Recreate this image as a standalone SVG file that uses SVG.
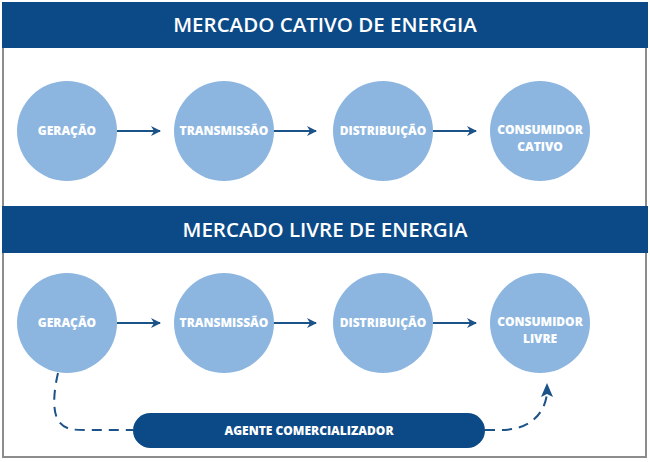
<svg xmlns="http://www.w3.org/2000/svg" width="650" height="462" viewBox="0 0 650 462">
<style>
.hdr{fill:#0b4a86}
.panel{fill:#ffffff;stroke:#8c8c8c;stroke-width:2}
.title{font-family:"Open Sans","Liberation Sans",sans-serif;font-weight:600;font-size:20.5px;fill:#ffffff;text-anchor:middle}
.node circle{fill:#8cb6e0}
.lbl{font-family:"Open Sans","Liberation Sans",sans-serif;font-weight:800;font-size:12px;fill:#ffffff;text-anchor:middle}
.arr{stroke:#1b5287;stroke-width:2;fill:none}
.dash{stroke:#1b5287;stroke-width:2;fill:none;stroke-dasharray:10 7}
</style>
<defs>
<marker id="ah" viewBox="0 0 10 10" refX="9" refY="5" markerWidth="10" markerHeight="10" markerUnits="userSpaceOnUse" orient="auto">
<path d="M0,0 L10,5 L0,10 L3,5 Z" fill="#1b5287"/>
</marker>
</defs>
<rect width="650" height="462" fill="#ffffff"/>
<rect class="panel" x="3" y="47" width="643" height="162"/>
<rect class="panel" x="3" y="252" width="643" height="205"/>
<g id="hdr1"><rect class="hdr" x="2" y="2" width="646" height="46"/><text class="title" x="325" y="32">MERCADO CATIVO DE ENERGIA</text></g>
<g id="hdr2"><rect class="hdr" x="2" y="206" width="646" height="47"/><text class="title" x="325" y="237">MERCADO LIVRE DE ENERGIA</text></g>
<g id="connectors">
<line class="arr" x1="117" y1="131" x2="160" y2="131" marker-end="url(#ah)"/>
<line class="arr" x1="273" y1="131" x2="316" y2="131" marker-end="url(#ah)"/>
<line class="arr" x1="433" y1="131" x2="476" y2="131" marker-end="url(#ah)"/>
<line class="arr" x1="117" y1="323" x2="160" y2="323" marker-end="url(#ah)"/>
<line class="arr" x1="273" y1="323" x2="316" y2="323" marker-end="url(#ah)"/>
<line class="arr" x1="433" y1="323" x2="476" y2="323" marker-end="url(#ah)"/>
<path class="dash" d="M58,373 C54,390 52,410 58,420 C64,430 74,430 86,430 L133,430"/>
<path class="dash" d="M485,430 L505,430 C530,428 544,415 547,394"/>
<path d="M547,383 L553,397 L547,394 L541,397 Z" fill="#1b5287"/>
</g>
<g id="n1" class="node"><circle cx="67" cy="131" r="50"/><text class="lbl" x="67" y="135">GERAÇÃO</text></g>
<g id="n2" class="node"><circle cx="224" cy="131" r="50"/><text class="lbl" x="224" y="135">TRANSMISSÃO</text></g>
<g id="n3" class="node"><circle cx="383" cy="131" r="50"/><text class="lbl" x="383" y="135">DISTRIBUIÇÃO</text></g>
<g id="n4" class="node"><circle cx="540" cy="131" r="50"/><text class="lbl" x="540" y="134">CONSUMIDOR</text><text class="lbl" x="540" y="151">CATIVO</text></g>
<g id="n5" class="node"><circle cx="67" cy="323" r="50"/><text class="lbl" x="67" y="327">GERAÇÃO</text></g>
<g id="n6" class="node"><circle cx="224" cy="323" r="50"/><text class="lbl" x="224" y="327">TRANSMISSÃO</text></g>
<g id="n7" class="node"><circle cx="383" cy="323" r="50"/><text class="lbl" x="383" y="327">DISTRIBUIÇÃO</text></g>
<g id="n8" class="node"><circle cx="540" cy="323" r="50"/><text class="lbl" x="540" y="326">CONSUMIDOR</text><text class="lbl" x="540" y="343">LIVRE</text></g>
<g id="agent"><rect x="133" y="413" width="352" height="35" rx="17.5" fill="#0b4a86"/><text class="lbl" x="309" y="435">AGENTE COMERCIALIZADOR</text></g>
</svg>
